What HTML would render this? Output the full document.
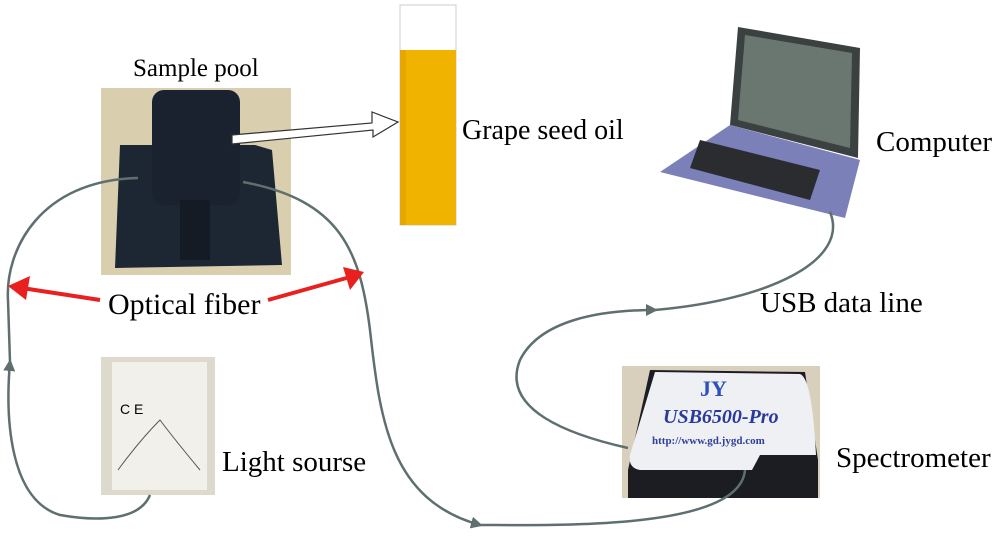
<!DOCTYPE html>
<html><head><style>body{margin:0;background:#fff}svg{display:block}text{font-family:"Liberation Serif",serif;fill:#000}</style></head>
<body>
<svg width="1000" height="544" viewBox="0 0 1000 544" xmlns="http://www.w3.org/2000/svg">
<defs>
<marker id="g" markerWidth="12" markerHeight="12" refX="9" refY="6" orient="auto" markerUnits="userSpaceOnUse"><path d="M0,0 L12,6 L0,12 Z" fill="#5f6f6f"/></marker>
</defs>
<!-- sample pool photo -->
<rect x="101" y="88" width="190" height="187" fill="#d9cfae"/>
<path d="M120,145 L255,145 L272,150 L282,265 L115,268 Z" fill="#1d2633"/>
<rect x="152" y="90" width="88" height="115" rx="12" fill="#1a2230"/>
<rect x="180" y="200" width="30" height="60" fill="#151b25"/>
<!-- arrow to oil -->
<path d="M232,135 L372,123 L372,112 L398,122 L373,137 L373,130 L232,144 Z" fill="#fff" stroke="#333" stroke-width="1.2"/>
<!-- oil tube -->
<rect x="400" y="5" width="56" height="220" fill="#fff" stroke="#ccc"/>
<rect x="400" y="50" width="56" height="175" fill="#f0b400"/>
<rect x="400" y="50" width="6" height="175" fill="#e6a800"/>
<!-- laptop -->
<polygon points="738,27 860,48 858,158 730,125" fill="#3b4140"/>
<polygon points="745,35 852,53 850,148 738,120" fill="#6a7670"/>
<polygon points="730,125 860,160 845,218 660,172" fill="#7c80b8"/>
<polygon points="700,140 820,170 810,200 690,168" fill="#2a2c30"/>
<!-- light source photo -->
<rect x="101" y="357" width="114" height="138" fill="#ddd9cc"/>
<rect x="112" y="362" width="95" height="128" fill="#f2f0ea"/>
<text x="120" y="414" font-size="14" style="font-family:'Liberation Sans',sans-serif">C E</text>
<path d="M118,470 Q140,440 160,420 Q175,440 200,470" fill="none" stroke="#555"/>
<!-- spectrometer photo -->
<rect x="622" y="366" width="198" height="132" fill="#d8d0bc"/>
<path d="M650,370 L805,372 L818,460 L818,498 L628,498 L628,470 Z" fill="#1b1d22"/>
<path d="M655,372 L800,374 Q812,378 816,455 L760,455 L752,470 L640,470 Q628,468 630,455 Z" fill="#eef0f3"/>
<text x="700" y="396" font-size="22" font-weight="bold" style="fill:#2f50b8">JY</text>
<text x="663" y="423" font-size="20" font-weight="bold" font-style="italic" style="fill:#2a3a9c">USB6500-Pro</text>
<text x="652" y="444" font-size="11" font-weight="bold" style="fill:#2f3f9c">http://www.gd.jygd.com</text>
<!-- fibers -->
<g fill="none" stroke="#5f6f6f" stroke-width="2.5">
<path d="M150,495 C140,520 100,522 60,515 C10,500 5,420 10,362" marker-end="url(#g)"/>
<path d="M10,362 L8,300 C5,250 40,180 138,178"/>
<path d="M243,182 C340,200 360,250 370,330 C380,420 390,500 480,525" marker-end="url(#g)"/>
<path d="M480,525 C560,525 740,530 745,470"/>
<path d="M628,448 C570,435 500,410 520,360 C540,320 600,310 655,310" marker-end="url(#g)"/>
<path d="M655,310 C770,300 850,260 830,212"/>
</g>
<!-- red arrows -->
<g stroke="#e82020" stroke-width="4" fill="#e82020">
<line x1="100" y1="300" x2="22" y2="288"/>
<polygon points="8,286 30,276 26,300" stroke="none"/>
<line x1="268" y1="300" x2="350" y2="277"/>
<polygon points="364,272 343,267 350,290" stroke="none"/>
</g>
<text x="133" y="76" font-size="25">Sample pool</text>
<text x="462" y="139" font-size="28">Grape seed oil</text>
<text x="876" y="151" font-size="29">Computer</text>
<text x="108" y="314" font-size="30">Optical fiber</text>
<text x="760" y="312" font-size="29">USB data line</text>
<text x="222" y="471" font-size="29">Light sourse</text>
<text x="836" y="467" font-size="29">Spectrometer</text>
</svg>
</body></html>
